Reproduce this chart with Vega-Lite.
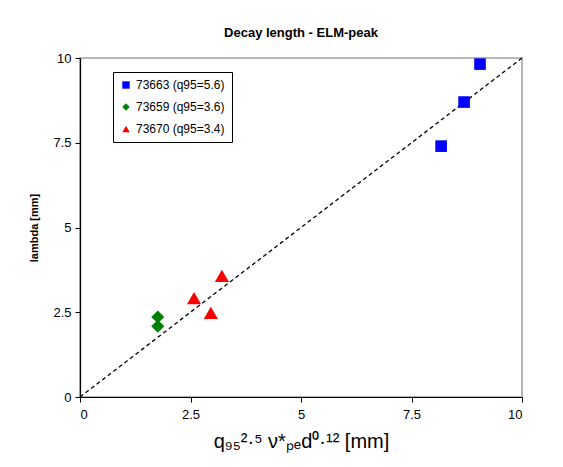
{
  "$schema": "https://vega.github.io/schema/vega-lite/v6.json",
  "autosize": "none",
  "width": 442,
  "height": 339,
  "padding": {"left": 80, "top": 58, "right": 41, "bottom": 70},
  "background": "white",
  "config": {
    "font": "Liberation Sans",
    "view": {"stroke": "#a0a0a0", "strokeWidth": 1.5},
    "axis": {"grid": false, "domainColor": "black", "tickColor": "black", "labelColor": "black", "labelFontSize": 13, "labelFont": "Liberation Sans", "titleColor": "black", "tickSize": 5, "domainWidth": 1.2}
  },
  "title": {"text": "Decay length - ELM-peak", "fontSize": 13, "fontWeight": "bold", "font": "Liberation Sans", "anchor": "middle", "offset": 12, "color": "black"},
  "datasets": {
    "pts": [
      {"x": 8.17, "y": 7.40, "series": "73663 (q95=5.6)"},
      {"x": 8.69, "y": 8.70, "series": "73663 (q95=5.6)"},
      {"x": 9.05, "y": 9.82, "series": "73663 (q95=5.6)"},
      {"x": 1.76, "y": 2.36, "series": "73659 (q95=3.6)"},
      {"x": 1.76, "y": 2.09, "series": "73659 (q95=3.6)"},
      {"x": 2.58, "y": 2.92, "series": "73670 (q95=3.4)"},
      {"x": 2.96, "y": 2.48, "series": "73670 (q95=3.4)"},
      {"x": 3.21, "y": 3.57, "series": "73670 (q95=3.4)"}
    ]
  },
  "encoding": {
    "x": {"field": "x", "type": "quantitative", "scale": {"domain": [0, 10], "nice": false},
      "axis": {"values": [0, 2.5, 5, 7.5, 10], "format": ".1~f", "labelPadding": 6, "title": "q₉₅²·⁵ ν*ₚₑd⁰·¹² [mm]", "titleFontSize": 20, "titleFontWeight": "normal", "titlePadding": 10}},
    "y": {"field": "y", "type": "quantitative", "scale": {"domain": [0, 10], "nice": false},
      "axis": {"values": [0, 2.5, 5, 7.5, 10], "format": ".1~f", "labelPadding": 4, "title": "lambda [mm]", "titleFontSize": 11, "titleFontWeight": "bold", "titlePadding": 13}}
  },
  "layer": [
    {
      "data": {"values": [{"x": 0, "y": 0}, {"x": 10, "y": 10}]},
      "mark": {"type": "line", "color": "black", "strokeDash": [4, 3], "strokeWidth": 1.3}
    },
    {
      "data": {"name": "pts"},
      "transform": [{"filter": "datum.series === '73663 (q95=5.6)'"}],
      "mark": {"type": "point", "filled": true, "opacity": 1, "size": 135},
      "encoding": {
        "color": {"field": "series", "type": "nominal",
          "scale": {"domain": ["73663 (q95=5.6)", "73659 (q95=3.6)", "73670 (q95=3.4)"], "range": ["#0000ff", "#008000", "#ff0000"]},
          "legend": {"title": null, "orient": "none", "legendX": 33, "legendY": 14, "strokeColor": "black", "fillColor": "white", "padding": 7, "labelFontSize": 12, "labelColor": "black", "rowPadding": 10, "labelFont": "Liberation Sans", "symbolSize": 55, "labelOffset": 4}},
        "shape": {"field": "series", "type": "nominal",
          "scale": {"domain": ["73663 (q95=5.6)", "73659 (q95=3.6)", "73670 (q95=3.4)"], "range": ["square", "diamond", "triangle-up"]}}
      }
    },
    {
      "data": {"name": "pts"},
      "transform": [{"filter": "datum.series === '73659 (q95=3.6)'"}],
      "mark": {"type": "point", "filled": true, "opacity": 1, "size": 170},
      "encoding": {
        "color": {"field": "series", "type": "nominal"},
        "shape": {"field": "series", "type": "nominal"}
      }
    },
    {
      "data": {"name": "pts"},
      "transform": [{"filter": "datum.series === '73670 (q95=3.4)'"}],
      "mark": {"type": "point", "filled": true, "opacity": 1, "size": 200},
      "encoding": {
        "color": {"field": "series", "type": "nominal"},
        "shape": {"field": "series", "type": "nominal"}
      }
    }
  ]
}
